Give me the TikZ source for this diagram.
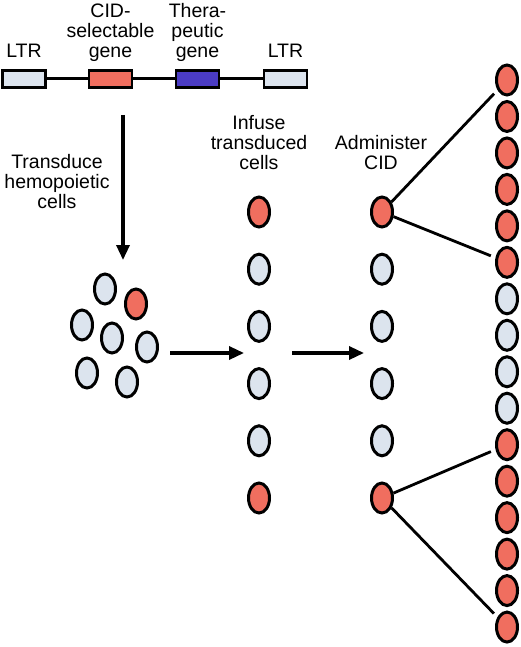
\documentclass[tikz,border=0pt]{standalone}
\usepackage{fontspec}
\setmainfont{Liberation Sans}
\usetikzlibrary{arrows.meta,shapes.geometric}
\definecolor{cellred}{RGB}{240,110,95}
\definecolor{celllight}{RGB}{220,228,238}
\definecolor{geneblue}{RGB}{75,60,196}
\tikzset{
  cellbase/.style={ellipse, draw=black, line width=3pt, minimum width=21pt, minimum height=30pt, inner sep=0pt},
  rc/.style={cellbase, fill=cellred},
  lc/.style={cellbase, fill=celllight},
  genebox/.style={draw=black, line width=2.2pt, minimum width=43pt, minimum height=17pt, inner sep=0pt},
  lbl/.style={align=center, font=\fontsize{19.5}{20}\selectfont, inner sep=0pt},
  bigarrow/.style={line width=3.3pt, -{Triangle[length=15pt,width=13pt]}},
  branch/.style={line width=2.8pt, shorten >=5pt}
}
\begin{document}
\begin{tikzpicture}[x=1pt,y=-1pt]
\useasboundingbox[fill=white] (0,0) rectangle (520,647);
% gene cassette
\node[genebox, fill=celllight] (ltr1) at (24,79) {};
\node[genebox, fill=cellred] (cid) at (110.5,79) {};
\node[genebox, fill=geneblue] (ther) at (197.5,79) {};
\node[genebox, fill=celllight] (ltr2) at (285.5,79) {};
\draw[line width=3pt] (ltr1) -- (cid);
\draw[line width=3pt] (cid) -- (ther);
\draw[line width=3pt] (ther) -- (ltr2);
\node[lbl, anchor=base] (t1) at (24,58) {LTR};
\node[lbl, anchor=base] (t2) at (110.5,58) {CID-\\selectable\\gene};
\node[lbl, anchor=base] (t3) at (197.5,58) {Thera-\\peutic\\gene};
\node[lbl, anchor=base] (t4) at (285.5,58) {LTR};
% vertical arrow
\coordinate (va) at (123,115);
\coordinate (vb) at (123,260);
\draw[bigarrow] (va) -- (vb);
\node[lbl] (trans) at (57,182) {Transduce\\hemopoietic\\cells};
% cluster
\node[lc] (k1) at (105,289) {};
\node[rc] (k2) at (136,304) {};
\node[lc] (k3) at (82,325) {};
\node[lc] (k4) at (112,338) {};
\node[lc] (k5) at (147,347) {};
\node[lc] (k6) at (87,373) {};
\node[lc] (k7) at (127,382) {};
% middle arrows
\coordinate (a1s) at (170,353);
\coordinate (a1e) at (244,353);
\coordinate (a2s) at (292,353);
\coordinate (a2e) at (364,353);
\draw[bigarrow] (a1s) -- (a1e);
\draw[bigarrow] (a2s) -- (a2e);
% infuse column
\node[lbl] (inf) at (259,143) {Infuse\\transduced\\cells};
\node[rc] (m1) at (259,212) {};
\node[lc] (m2) at (259,269.2) {};
\node[lc] (m3) at (259,326.4) {};
\node[lc] (m4) at (259,383.6) {};
\node[lc] (m5) at (259,440.8) {};
\node[rc] (m6) at (259,498) {};
% administer column
\node[lbl] (adm) at (381,153) {Administer\\CID};
\node[rc] (c1) at (382,212) {};
\node[lc] (c2) at (382,269.2) {};
\node[lc] (c3) at (382,326.4) {};
\node[lc] (c4) at (382,383.6) {};
\node[lc] (c5) at (382,440.8) {};
\node[rc] (c6) at (382,498) {};
% right column
\foreach \i in {0,...,15} {
  \pgfmathsetmacro{\yy}{80+36.47*\i}
  \ifnum\i<6
    \node[rc] (r\i) at (507,\yy) {};
  \else\ifnum\i<10
    \node[lc] (r\i) at (507,\yy) {};
  \else
    \node[rc] (r\i) at (507,\yy) {};
  \fi\fi
}
\draw[branch] (c1) -- (r0);
\draw[branch] (c1) -- (r5);
\draw[branch] (c6) -- (r10);
\draw[branch] (c6) -- (r15);
\end{tikzpicture}
\end{document}
